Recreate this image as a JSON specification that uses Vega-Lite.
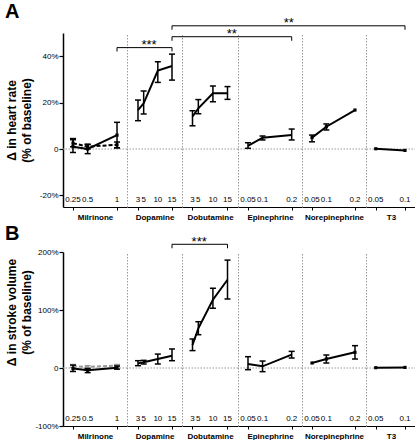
{
"$schema":"https://vega.github.io/schema/vega-lite/v6.json",
"padding":{"left":4,"top":2,"right":0,"bottom":0},
"spacing":2,
"config":{"view":{"stroke":null},"font":"Liberation Sans",
 "axisX":{"labels":false,"tickSize":3,"titleFontSize":8,"titleFontWeight":"bold","titlePadding":3,"domainColor":"black","domainWidth":1.2,"tickColor":"black","tickWidth":1,"titleColor":"black","grid":false},
 "axisY":{"grid":false,"labelColor":"black","titleColor":"black"},
 "text":{"font":"Liberation Sans"}},
"datasets":{
 "hr":[
  {"drug":"Milrinone","s":"solid","dose":0.25,"m":1,"lo":-1.5,"hi":4.5},
  {"drug":"Milrinone","s":"solid","dose":0.5,"m":0,"lo":-2,"hi":2},
  {"drug":"Milrinone","s":"solid","dose":1,"m":6,"lo":0.5,"hi":11.5},
  {"drug":"Milrinone","s":"dashed","dose":0.25,"m":2.5,"lo":1,"hi":4},
  {"drug":"Milrinone","s":"dashed","dose":0.5,"m":1,"lo":0,"hi":2},
  {"drug":"Milrinone","s":"dashed","dose":1,"m":1.8,"lo":0.5,"hi":3},
  {"drug":"Dopamine","s":"solid","dose":3,"m":16.8,"lo":12.2,"hi":21.1},
  {"drug":"Dopamine","s":"solid","dose":5,"m":19.7,"lo":15.1,"hi":25},
  {"drug":"Dopamine","s":"solid","dose":10,"m":33.8,"lo":28.7,"hi":37.6},
  {"drug":"Dopamine","s":"solid","dose":15,"m":35.8,"lo":29.7,"hi":40.9},
  {"drug":"Dobutamine","s":"solid","dose":3,"m":14,"lo":10,"hi":16.5},
  {"drug":"Dobutamine","s":"solid","dose":5,"m":17.5,"lo":15.2,"hi":21.3},
  {"drug":"Dobutamine","s":"solid","dose":10,"m":24,"lo":20.4,"hi":27.2},
  {"drug":"Dobutamine","s":"solid","dose":15,"m":24,"lo":21.4,"hi":26.9},
  {"drug":"Epinephrine","s":"solid","dose":0.05,"m":1.4,"lo":0.3,"hi":2.7},
  {"drug":"Epinephrine","s":"solid","dose":0.1,"m":4.9,"lo":3.9,"hi":5.6},
  {"drug":"Epinephrine","s":"solid","dose":0.2,"m":6,"lo":3.9,"hi":8.6},
  {"drug":"Norepinephrine","s":"solid","dose":0.05,"m":4.9,"lo":3.1,"hi":6},
  {"drug":"Norepinephrine","s":"solid","dose":0.1,"m":9.6,"lo":8.2,"hi":10.8},
  {"drug":"Norepinephrine","s":"solid","dose":0.2,"m":16.8,"lo":null,"hi":null},
  {"drug":"T3","s":"solid","dose":0.05,"m":0.1,"lo":null,"hi":null},
  {"drug":"T3","s":"solid","dose":0.1,"m":-0.6,"lo":null,"hi":null}
 ],
 "sv":[
  {"drug":"Milrinone","s":"solid","dose":0.25,"m":-1,"lo":-6,"hi":5},
  {"drug":"Milrinone","s":"solid","dose":0.5,"m":-4,"lo":-8,"hi":-1},
  {"drug":"Milrinone","s":"solid","dose":1,"m":0.5,"lo":-2,"hi":3.5},
  {"drug":"Milrinone","s":"dashed","dose":0.25,"m":3,"lo":1,"hi":6},
  {"drug":"Milrinone","s":"dashed","dose":0.5,"m":2,"lo":0,"hi":4},
  {"drug":"Milrinone","s":"dashed","dose":1,"m":4,"lo":2,"hi":6},
  {"drug":"Dopamine","s":"solid","dose":3,"m":8,"lo":4,"hi":12.6},
  {"drug":"Dopamine","s":"solid","dose":5,"m":9.8,"lo":6.9,"hi":13.2},
  {"drug":"Dopamine","s":"solid","dose":10,"m":15.5,"lo":6.9,"hi":24},
  {"drug":"Dopamine","s":"solid","dose":15,"m":21.2,"lo":12.6,"hi":32.8},
  {"drug":"Dobutamine","s":"solid","dose":3,"m":39.7,"lo":30,"hi":50},
  {"drug":"Dobutamine","s":"solid","dose":5,"m":68.4,"lo":57.4,"hi":79.8},
  {"drug":"Dobutamine","s":"solid","dose":10,"m":117.8,"lo":102.9,"hi":137.4},
  {"drug":"Dobutamine","s":"solid","dose":15,"m":152.2,"lo":119,"hi":186},
  {"drug":"Epinephrine","s":"solid","dose":0.05,"m":6.9,"lo":-2.9,"hi":19.5},
  {"drug":"Epinephrine","s":"solid","dose":0.1,"m":2.9,"lo":-6.3,"hi":12},
  {"drug":"Epinephrine","s":"solid","dose":0.2,"m":23,"lo":17.2,"hi":28.7},
  {"drug":"Norepinephrine","s":"solid","dose":0.05,"m":8.6,"lo":null,"hi":null},
  {"drug":"Norepinephrine","s":"solid","dose":0.1,"m":15.5,"lo":8.6,"hi":22.4},
  {"drug":"Norepinephrine","s":"solid","dose":0.2,"m":27,"lo":15.5,"hi":38.5},
  {"drug":"T3","s":"solid","dose":0.05,"m":0.5,"lo":null,"hi":null},
  {"drug":"T3","s":"solid","dose":0.1,"m":1,"lo":null,"hi":null}
 ]
},
"vconcat":[
 {"hconcat":[
  {"width":64,"height":174,"data":{"name":"hr"},
   "title":{"text":"A","anchor":"start","frame":"group","fontSize":20,"fontWeight":"bold","dx":-58,"offset":11,"color":"black"},
   "layer":[
    {"data":{"values":[{}]},"mark":{"type":"rule","color":"#999999","strokeDash":[1.5,1.5],"strokeWidth":1},"encoding":{"y":{"datum":0,"type":"quantitative"}}},
    {"transform":[{"filter":"datum.drug=='Milrinone'"}],"mark":{"type":"rule","color":"black","strokeWidth":1.5},"encoding":{"x":{"field":"dose","type":"quantitative"},"y":{"field":"lo","type":"quantitative"},"y2":{"field":"hi"}}},
    {"transform":[{"filter":"datum.drug=='Milrinone'"}],"mark":{"type":"tick","orient":"horizontal","size":6,"thickness":1.5,"color":"black","opacity":1},"encoding":{"x":{"field":"dose","type":"quantitative"},"y":{"field":"lo","type":"quantitative"}}},
    {"transform":[{"filter":"datum.drug=='Milrinone'"}],"mark":{"type":"tick","orient":"horizontal","size":6,"thickness":1.5,"color":"black","opacity":1},"encoding":{"x":{"field":"dose","type":"quantitative"},"y":{"field":"hi","type":"quantitative"}}},
    {"transform":[{"filter":"datum.drug=='Milrinone' && datum.s=='dashed'"}],"mark":{"type":"line","color":"black","strokeWidth":2,"strokeDash":[4,2]},"encoding":{"x":{"field":"dose","type":"quantitative"},"y":{"field":"m","type":"quantitative"}}},
    {"transform":[{"filter":"datum.drug=='Milrinone' && datum.s=='solid'"}],"mark":{"type":"line","color":"black","strokeWidth":2},"encoding":{
      "x":{"field":"dose","type":"quantitative","scale":{"domain":[0.08,1.17],"nice":false,"zero":false},"axis":{"values":[0.25,0.5,1],"title":"Milrinone","labels":false}},
      "y":{"field":"m","type":"quantitative","scale":{"domain":[-25,50],"nice":false,"zero":false},"axis":{"values":[-20,0,20,40],"labelExpr":"datum.value == 0 ? '0' : datum.value + '%'","title":["Δ in heart rate","(% of baseline)"],"titleX":-45,"titleY":87,"titleBaseline":"bottom","titleAngle":-90,"titleAlign":"center","titleFontSize":12,"titleFontWeight":"bold","titleLineHeight":15.5,"labelFontSize":8,"labelPadding":1,"labelOverlap":false,"tickSize":4,"tickWidth":1.2,"tickColor":"black","domainColor":"black","domainWidth":1.5}}}},
    {"transform":[{"filter":"datum.drug=='Milrinone'"}],"mark":{"type":"point","filled":true,"shape":"square","size":10,"color":"black","opacity":1},"encoding":{"x":{"field":"dose","type":"quantitative"},"y":{"field":"m","type":"quantitative"}}},
    {"transform":[{"filter":"datum.drug=='Milrinone' && datum.s=='solid'"}],"mark":{"type":"text","fontSize":8,"baseline":"alphabetic","dy":-5,"color":"black"},"encoding":{"x":{"field":"dose","type":"quantitative"},"y":{"datum":-25,"type":"quantitative"},"text":{"field":"dose","type":"quantitative","format":"~g"}}},
    {"data":{"values":[{"from":1,"level":43.7}]},"mark":{"type":"rule","color":"black","strokeWidth":1},"encoding":{"x":{"field":"from","type":"quantitative"},"x2":{"value":"width"},"y":{"field":"level","type":"quantitative"}}},
    {"data":{"values":[{"at":1,"level":43.7}]},"mark":{"type":"tick","orient":"vertical","size":4,"thickness":1,"color":"black","opacity":1,"yOffset":2},"encoding":{"x":{"field":"at","type":"quantitative"},"y":{"field":"level","type":"quantitative"}}}
   ]},
  {"width":55,"height":174,"data":{"name":"hr"},
   "layer":[
    {"data":{"values":[{}]},"mark":{"type":"rule","color":"#999999","strokeDash":[1.5,1.5],"strokeWidth":1},"encoding":{"y":{"datum":0,"type":"quantitative"}}},
    {"transform":[{"filter":"datum.drug=='Dopamine'"}],"mark":{"type":"rule","color":"black","strokeWidth":1.5},"encoding":{"x":{"field":"dose","type":"quantitative"},"y":{"field":"lo","type":"quantitative"},"y2":{"field":"hi"}}},
    {"transform":[{"filter":"datum.drug=='Dopamine'"}],"mark":{"type":"tick","orient":"horizontal","size":6,"thickness":1.5,"color":"black","opacity":1},"encoding":{"x":{"field":"dose","type":"quantitative"},"y":{"field":"lo","type":"quantitative"}}},
    {"transform":[{"filter":"datum.drug=='Dopamine'"}],"mark":{"type":"tick","orient":"horizontal","size":6,"thickness":1.5,"color":"black","opacity":1},"encoding":{"x":{"field":"dose","type":"quantitative"},"y":{"field":"hi","type":"quantitative"}}},
    {"transform":[{"filter":"datum.drug=='Dopamine'"}],"mark":{"type":"line","color":"black","strokeWidth":2},"encoding":{
      "x":{"field":"dose","type":"quantitative","scale":{"domain":[-0.88,18.53],"nice":false,"zero":false},"axis":{"values":[3,5,10,15],"title":"Dopamine","labels":false}},
      "y":{"field":"m","type":"quantitative","scale":{"domain":[-25,50],"nice":false,"zero":false},"axis":{"labels":false,"ticks":false,"title":null,"domainColor":"#999999","domainDash":[1.5,1.5],"domainWidth":1}}}},
    {"transform":[{"filter":"datum.drug=='Dopamine'"}],"mark":{"type":"text","fontSize":8,"baseline":"alphabetic","dy":-5,"color":"black"},"encoding":{"x":{"field":"dose","type":"quantitative"},"y":{"datum":-25,"type":"quantitative"},"text":{"field":"dose","type":"quantitative","format":"~g"}}},
    {"data":{"values":[{"from":15,"level":48.4},{"from":15,"level":53.1}]},"mark":{"type":"rule","color":"black","strokeWidth":1},"encoding":{"x":{"field":"from","type":"quantitative"},"x2":{"value":"width"},"y":{"field":"level","type":"quantitative"}}},
    {"data":{"values":[{"to":15,"level":43.7}]},"mark":{"type":"rule","color":"black","strokeWidth":1},"encoding":{"x":{"field":"to","type":"quantitative"},"x2":{"value":0},"y":{"field":"level","type":"quantitative"}}},
    {"data":{"values":[{"at":15,"level":43.7},{"at":15,"level":48.4},{"at":15,"level":53.1}]},"mark":{"type":"tick","orient":"vertical","size":4,"thickness":1,"color":"black","opacity":1,"yOffset":2},"encoding":{"x":{"field":"at","type":"quantitative"},"y":{"field":"level","type":"quantitative"}}},
    {"data":{"values":[{"x":6.9,"level":43.7,"t":"***"}]},"mark":{"type":"text","fontSize":13,"dy":1.5,"baseline":"alphabetic","align":"center","color":"black"},"encoding":{"x":{"field":"x","type":"quantitative"},"y":{"field":"level","type":"quantitative"},"text":{"field":"t"}}}
   ]},
  {"width":56,"height":174,"data":{"name":"hr"},
   "layer":[
    {"data":{"values":[{}]},"mark":{"type":"rule","color":"#999999","strokeDash":[1.5,1.5],"strokeWidth":1},"encoding":{"y":{"datum":0,"type":"quantitative"}}},
    {"transform":[{"filter":"datum.drug=='Dobutamine'"}],"mark":{"type":"rule","color":"black","strokeWidth":1.5},"encoding":{"x":{"field":"dose","type":"quantitative"},"y":{"field":"lo","type":"quantitative"},"y2":{"field":"hi"}}},
    {"transform":[{"filter":"datum.drug=='Dobutamine'"}],"mark":{"type":"tick","orient":"horizontal","size":6,"thickness":1.5,"color":"black","opacity":1},"encoding":{"x":{"field":"dose","type":"quantitative"},"y":{"field":"lo","type":"quantitative"}}},
    {"transform":[{"filter":"datum.drug=='Dobutamine'"}],"mark":{"type":"tick","orient":"horizontal","size":6,"thickness":1.5,"color":"black","opacity":1},"encoding":{"x":{"field":"dose","type":"quantitative"},"y":{"field":"hi","type":"quantitative"}}},
    {"transform":[{"filter":"datum.drug=='Dobutamine'"}],"mark":{"type":"line","color":"black","strokeWidth":2},"encoding":{
      "x":{"field":"dose","type":"quantitative","scale":{"domain":[-0.6,18.6],"nice":false,"zero":false},"axis":{"values":[3,5,10,15],"title":"Dobutamine","labels":false}},
      "y":{"field":"m","type":"quantitative","scale":{"domain":[-25,50],"nice":false,"zero":false},"axis":{"labels":false,"ticks":false,"title":null,"domainColor":"#999999","domainDash":[1.5,1.5],"domainWidth":1}}}},
    {"transform":[{"filter":"datum.drug=='Dobutamine'"}],"mark":{"type":"text","fontSize":8,"baseline":"alphabetic","dy":-5,"color":"black"},"encoding":{"x":{"field":"dose","type":"quantitative"},"y":{"datum":-25,"type":"quantitative"},"text":{"field":"dose","type":"quantitative","format":"~g"}}},
    {"data":{"values":[{"level":48.4},{"level":53.1}]},"mark":{"type":"rule","color":"black","strokeWidth":1},"encoding":{"x":{"value":0},"x2":{"value":"width"},"y":{"field":"level","type":"quantitative"}}},
    {"data":{"values":[{"x":16.5,"level":48.4,"t":"**"}]},"mark":{"type":"text","fontSize":13,"dy":1.5,"baseline":"alphabetic","align":"center","color":"black"},"encoding":{"x":{"field":"x","type":"quantitative"},"y":{"field":"level","type":"quantitative"},"text":{"field":"t"}}}
   ]},
  {"width":64,"height":174,"data":{"name":"hr"},
   "layer":[
    {"data":{"values":[{}]},"mark":{"type":"rule","color":"#999999","strokeDash":[1.5,1.5],"strokeWidth":1},"encoding":{"y":{"datum":0,"type":"quantitative"}}},
    {"transform":[{"filter":"datum.drug=='Epinephrine'"}],"mark":{"type":"rule","color":"black","strokeWidth":1.5},"encoding":{"x":{"field":"dose","type":"quantitative"},"y":{"field":"lo","type":"quantitative"},"y2":{"field":"hi"}}},
    {"transform":[{"filter":"datum.drug=='Epinephrine'"}],"mark":{"type":"tick","orient":"horizontal","size":6,"thickness":1.5,"color":"black","opacity":1},"encoding":{"x":{"field":"dose","type":"quantitative"},"y":{"field":"lo","type":"quantitative"}}},
    {"transform":[{"filter":"datum.drug=='Epinephrine'"}],"mark":{"type":"tick","orient":"horizontal","size":6,"thickness":1.5,"color":"black","opacity":1},"encoding":{"x":{"field":"dose","type":"quantitative"},"y":{"field":"hi","type":"quantitative"}}},
    {"transform":[{"filter":"datum.drug=='Epinephrine'"}],"mark":{"type":"line","color":"black","strokeWidth":2},"encoding":{
      "x":{"field":"dose","type":"quantitative","scale":{"domain":[0.0157,0.2354],"nice":false,"zero":false},"axis":{"values":[0.05,0.1,0.2],"title":"Epinephrine","labels":false}},
      "y":{"field":"m","type":"quantitative","scale":{"domain":[-25,50],"nice":false,"zero":false},"axis":{"labels":false,"ticks":false,"title":null,"domainColor":"#999999","domainDash":[1.5,1.5],"domainWidth":1}}}},
    {"transform":[{"filter":"datum.drug=='Epinephrine'"}],"mark":{"type":"text","fontSize":8,"baseline":"alphabetic","dy":-5,"color":"black"},"encoding":{"x":{"field":"dose","type":"quantitative"},"y":{"datum":-25,"type":"quantitative"},"text":{"field":"dose","type":"quantitative","format":"~g"}}},
    {"data":{"values":[{"level":53.1}]},"mark":{"type":"rule","color":"black","strokeWidth":1},"encoding":{"x":{"value":0},"x2":{"value":"width"},"y":{"field":"level","type":"quantitative"}}},
    {"data":{"values":[{"to":0.2,"level":48.4}]},"mark":{"type":"rule","color":"black","strokeWidth":1},"encoding":{"x":{"field":"to","type":"quantitative"},"x2":{"value":0},"y":{"field":"level","type":"quantitative"}}},
    {"data":{"values":[{"at":0.2,"level":48.4}]},"mark":{"type":"tick","orient":"vertical","size":4,"thickness":1,"color":"black","opacity":1,"yOffset":2},"encoding":{"x":{"field":"at","type":"quantitative"},"y":{"field":"level","type":"quantitative"}}},
    {"data":{"values":[{"x":0.19,"level":53.1,"t":"**"}]},"mark":{"type":"text","fontSize":13,"dy":1.5,"baseline":"alphabetic","align":"center","color":"black"},"encoding":{"x":{"field":"x","type":"quantitative"},"y":{"field":"level","type":"quantitative"},"text":{"field":"t"}}}
   ]},
  {"width":64,"height":174,"data":{"name":"hr"},
   "layer":[
    {"data":{"values":[{}]},"mark":{"type":"rule","color":"#999999","strokeDash":[1.5,1.5],"strokeWidth":1},"encoding":{"y":{"datum":0,"type":"quantitative"}}},
    {"transform":[{"filter":"datum.drug=='Norepinephrine' && datum.lo != null"}],"mark":{"type":"rule","color":"black","strokeWidth":1.5},"encoding":{"x":{"field":"dose","type":"quantitative"},"y":{"field":"lo","type":"quantitative"},"y2":{"field":"hi"}}},
    {"transform":[{"filter":"datum.drug=='Norepinephrine' && datum.lo != null"}],"mark":{"type":"tick","orient":"horizontal","size":6,"thickness":1.5,"color":"black","opacity":1},"encoding":{"x":{"field":"dose","type":"quantitative"},"y":{"field":"lo","type":"quantitative"}}},
    {"transform":[{"filter":"datum.drug=='Norepinephrine' && datum.lo != null"}],"mark":{"type":"tick","orient":"horizontal","size":6,"thickness":1.5,"color":"black","opacity":1},"encoding":{"x":{"field":"dose","type":"quantitative"},"y":{"field":"hi","type":"quantitative"}}},
    {"transform":[{"filter":"datum.drug=='Norepinephrine'"}],"mark":{"type":"line","color":"black","strokeWidth":2},"encoding":{
      "x":{"field":"dose","type":"quantitative","scale":{"domain":[0.0151,0.2384],"nice":false,"zero":false},"axis":{"values":[0.05,0.1,0.2],"title":"Norepinephrine","labels":false}},
      "y":{"field":"m","type":"quantitative","scale":{"domain":[-25,50],"nice":false,"zero":false},"axis":{"labels":false,"ticks":false,"title":null,"domainColor":"#999999","domainDash":[1.5,1.5],"domainWidth":1}}}},
    {"transform":[{"filter":"datum.drug=='Norepinephrine'"}],"mark":{"type":"point","filled":true,"shape":"square","size":10,"color":"black","opacity":1},"encoding":{"x":{"field":"dose","type":"quantitative"},"y":{"field":"m","type":"quantitative"}}},
    {"transform":[{"filter":"datum.drug=='Norepinephrine'"}],"mark":{"type":"text","fontSize":8,"baseline":"alphabetic","dy":-5,"color":"black"},"encoding":{"x":{"field":"dose","type":"quantitative"},"y":{"datum":-25,"type":"quantitative"},"text":{"field":"dose","type":"quantitative","format":"~g"}}},
    {"data":{"values":[{"level":53.1}]},"mark":{"type":"rule","color":"black","strokeWidth":1},"encoding":{"x":{"value":0},"x2":{"value":"width"},"y":{"field":"level","type":"quantitative"}}}
   ]},
  {"width":50,"height":174,"data":{"name":"hr"},
   "layer":[
    {"data":{"values":[{}]},"mark":{"type":"rule","color":"#999999","strokeDash":[1.5,1.5],"strokeWidth":1},"encoding":{"y":{"datum":0,"type":"quantitative"}}},
    {"transform":[{"filter":"datum.drug=='T3'"}],"mark":{"type":"line","color":"black","strokeWidth":2},"encoding":{
      "x":{"field":"dose","type":"quantitative","scale":{"domain":[0.0334,0.1188],"nice":false,"zero":false},"axis":{"values":[0.05,0.1],"title":"T3","labels":false}},
      "y":{"field":"m","type":"quantitative","scale":{"domain":[-25,50],"nice":false,"zero":false},"axis":{"labels":false,"ticks":false,"title":null,"domainColor":"#999999","domainDash":[1.5,1.5],"domainWidth":1}}}},
    {"transform":[{"filter":"datum.drug=='T3'"}],"mark":{"type":"point","filled":true,"shape":"square","size":10,"color":"black","opacity":1},"encoding":{"x":{"field":"dose","type":"quantitative"},"y":{"field":"m","type":"quantitative"}}},
    {"transform":[{"filter":"datum.drug=='T3'"}],"mark":{"type":"text","fontSize":8,"baseline":"alphabetic","dy":-5,"color":"black"},"encoding":{"x":{"field":"dose","type":"quantitative"},"y":{"datum":-25,"type":"quantitative"},"text":{"field":"dose","type":"quantitative","format":"~g"}}},
    {"data":{"values":[{"to":0.1,"level":53.1}]},"mark":{"type":"rule","color":"black","strokeWidth":1},"encoding":{"x":{"field":"to","type":"quantitative"},"x2":{"value":0},"y":{"field":"level","type":"quantitative"}}},
    {"data":{"values":[{"at":0.1,"level":53.1}]},"mark":{"type":"tick","orient":"vertical","size":4,"thickness":1,"color":"black","opacity":1,"yOffset":2},"encoding":{"x":{"field":"at","type":"quantitative"},"y":{"field":"level","type":"quantitative"}}}
   ]}
 ],"spacing":0,"bounds":"flush","resolve":{"scale":{"x":"independent","y":"independent"},"axis":{"x":"independent","y":"independent"}}},
 {"hconcat":[
  {"width":64,"height":174,"data":{"name":"sv"},
   "title":{"text":"B","anchor":"start","frame":"group","fontSize":20,"fontWeight":"bold","dx":-58,"offset":3.7,"color":"black"},
   "layer":[
    {"data":{"values":[{}]},"mark":{"type":"rule","color":"#999999","strokeDash":[1.5,1.5],"strokeWidth":1},"encoding":{"y":{"datum":0,"type":"quantitative"}}},
    {"transform":[{"filter":"datum.drug=='Milrinone' && datum.s=='dashed'"}],"mark":{"type":"rule","color":"#999999","strokeWidth":1.5},"encoding":{"x":{"field":"dose","type":"quantitative"},"y":{"field":"lo","type":"quantitative"},"y2":{"field":"hi"}}},
    {"transform":[{"filter":"datum.drug=='Milrinone' && datum.s=='dashed'"}],"mark":{"type":"tick","orient":"horizontal","size":6,"thickness":1.5,"color":"#999999","opacity":1},"encoding":{"x":{"field":"dose","type":"quantitative"},"y":{"field":"lo","type":"quantitative"}}},
    {"transform":[{"filter":"datum.drug=='Milrinone' && datum.s=='dashed'"}],"mark":{"type":"tick","orient":"horizontal","size":6,"thickness":1.5,"color":"#999999","opacity":1},"encoding":{"x":{"field":"dose","type":"quantitative"},"y":{"field":"hi","type":"quantitative"}}},
    {"transform":[{"filter":"datum.drug=='Milrinone' && datum.s=='dashed'"}],"mark":{"type":"line","color":"#999999","strokeWidth":2,"strokeDash":[4,2]},"encoding":{"x":{"field":"dose","type":"quantitative"},"y":{"field":"m","type":"quantitative"}}},
    {"transform":[{"filter":"datum.drug=='Milrinone' && datum.s=='solid'"}],"mark":{"type":"rule","color":"black","strokeWidth":1.5},"encoding":{"x":{"field":"dose","type":"quantitative"},"y":{"field":"lo","type":"quantitative"},"y2":{"field":"hi"}}},
    {"transform":[{"filter":"datum.drug=='Milrinone' && datum.s=='solid'"}],"mark":{"type":"tick","orient":"horizontal","size":6,"thickness":1.5,"color":"black","opacity":1},"encoding":{"x":{"field":"dose","type":"quantitative"},"y":{"field":"lo","type":"quantitative"}}},
    {"transform":[{"filter":"datum.drug=='Milrinone' && datum.s=='solid'"}],"mark":{"type":"tick","orient":"horizontal","size":6,"thickness":1.5,"color":"black","opacity":1},"encoding":{"x":{"field":"dose","type":"quantitative"},"y":{"field":"hi","type":"quantitative"}}},
    {"transform":[{"filter":"datum.drug=='Milrinone' && datum.s=='solid'"}],"mark":{"type":"line","color":"black","strokeWidth":2},"encoding":{
      "x":{"field":"dose","type":"quantitative","scale":{"domain":[0.08,1.17],"nice":false,"zero":false},"axis":{"values":[0.25,0.5,1],"title":"Milrinone","labels":false}},
      "y":{"field":"m","type":"quantitative","scale":{"domain":[-100,200],"nice":false,"zero":false},"axis":{"values":[-100,0,100,200],"labelExpr":"datum.value == 0 ? '0' : datum.value + '%'","title":["Δ in stroke volume","(% of baseline)"],"titleX":-45,"titleY":60,"titleBaseline":"bottom","titleAngle":-90,"titleAlign":"center","titleFontSize":12,"titleFontWeight":"bold","titleLineHeight":15.5,"labelFontSize":8,"labelPadding":1,"labelOverlap":false,"tickSize":4,"tickWidth":1.2,"tickColor":"black","domainColor":"black","domainWidth":1.5}}}},
    {"transform":[{"filter":"datum.drug=='Milrinone' && datum.s=='solid'"}],"mark":{"type":"point","filled":true,"shape":"square","size":10,"color":"black","opacity":1},"encoding":{"x":{"field":"dose","type":"quantitative"},"y":{"field":"m","type":"quantitative"}}},
    {"transform":[{"filter":"datum.drug=='Milrinone' && datum.s=='solid'"}],"mark":{"type":"text","fontSize":8,"baseline":"alphabetic","dy":-5,"color":"black"},"encoding":{"x":{"field":"dose","type":"quantitative"},"y":{"datum":-100,"type":"quantitative"},"text":{"field":"dose","type":"quantitative","format":"~g"}}}
   ]},
  {"width":55,"height":174,"data":{"name":"sv"},
   "layer":[
    {"data":{"values":[{}]},"mark":{"type":"rule","color":"#999999","strokeDash":[1.5,1.5],"strokeWidth":1},"encoding":{"y":{"datum":0,"type":"quantitative"}}},
    {"transform":[{"filter":"datum.drug=='Dopamine'"}],"mark":{"type":"rule","color":"black","strokeWidth":1.5},"encoding":{"x":{"field":"dose","type":"quantitative"},"y":{"field":"lo","type":"quantitative"},"y2":{"field":"hi"}}},
    {"transform":[{"filter":"datum.drug=='Dopamine'"}],"mark":{"type":"tick","orient":"horizontal","size":6,"thickness":1.5,"color":"black","opacity":1},"encoding":{"x":{"field":"dose","type":"quantitative"},"y":{"field":"lo","type":"quantitative"}}},
    {"transform":[{"filter":"datum.drug=='Dopamine'"}],"mark":{"type":"tick","orient":"horizontal","size":6,"thickness":1.5,"color":"black","opacity":1},"encoding":{"x":{"field":"dose","type":"quantitative"},"y":{"field":"hi","type":"quantitative"}}},
    {"transform":[{"filter":"datum.drug=='Dopamine'"}],"mark":{"type":"line","color":"black","strokeWidth":2},"encoding":{
      "x":{"field":"dose","type":"quantitative","scale":{"domain":[-0.88,18.53],"nice":false,"zero":false},"axis":{"values":[3,5,10,15],"title":"Dopamine","labels":false}},
      "y":{"field":"m","type":"quantitative","scale":{"domain":[-100,200],"nice":false,"zero":false},"axis":{"labels":false,"ticks":false,"title":null,"domainColor":"#999999","domainDash":[1.5,1.5],"domainWidth":1}}}},
    {"transform":[{"filter":"datum.drug=='Dopamine'"}],"mark":{"type":"text","fontSize":8,"baseline":"alphabetic","dy":-5,"color":"black"},"encoding":{"x":{"field":"dose","type":"quantitative"},"y":{"datum":-100,"type":"quantitative"},"text":{"field":"dose","type":"quantitative","format":"~g"}}},
    {"data":{"values":[{"from":15,"level":213.3}]},"mark":{"type":"rule","color":"black","strokeWidth":1},"encoding":{"x":{"field":"from","type":"quantitative"},"x2":{"value":"width"},"y":{"field":"level","type":"quantitative"}}},
    {"data":{"values":[{"at":15,"level":213.3}]},"mark":{"type":"tick","orient":"vertical","size":4,"thickness":1,"color":"black","opacity":1,"yOffset":2},"encoding":{"x":{"field":"at","type":"quantitative"},"y":{"field":"level","type":"quantitative"}}}
   ]},
  {"width":56,"height":174,"data":{"name":"sv"},
   "layer":[
    {"data":{"values":[{}]},"mark":{"type":"rule","color":"#999999","strokeDash":[1.5,1.5],"strokeWidth":1},"encoding":{"y":{"datum":0,"type":"quantitative"}}},
    {"transform":[{"filter":"datum.drug=='Dobutamine'"}],"mark":{"type":"rule","color":"black","strokeWidth":1.5},"encoding":{"x":{"field":"dose","type":"quantitative"},"y":{"field":"lo","type":"quantitative"},"y2":{"field":"hi"}}},
    {"transform":[{"filter":"datum.drug=='Dobutamine'"}],"mark":{"type":"tick","orient":"horizontal","size":6,"thickness":1.5,"color":"black","opacity":1},"encoding":{"x":{"field":"dose","type":"quantitative"},"y":{"field":"lo","type":"quantitative"}}},
    {"transform":[{"filter":"datum.drug=='Dobutamine'"}],"mark":{"type":"tick","orient":"horizontal","size":6,"thickness":1.5,"color":"black","opacity":1},"encoding":{"x":{"field":"dose","type":"quantitative"},"y":{"field":"hi","type":"quantitative"}}},
    {"transform":[{"filter":"datum.drug=='Dobutamine'"}],"mark":{"type":"line","color":"black","strokeWidth":2},"encoding":{
      "x":{"field":"dose","type":"quantitative","scale":{"domain":[-0.6,18.6],"nice":false,"zero":false},"axis":{"values":[3,5,10,15],"title":"Dobutamine","labels":false}},
      "y":{"field":"m","type":"quantitative","scale":{"domain":[-100,200],"nice":false,"zero":false},"axis":{"labels":false,"ticks":false,"title":null,"domainColor":"#999999","domainDash":[1.5,1.5],"domainWidth":1}}}},
    {"transform":[{"filter":"datum.drug=='Dobutamine'"}],"mark":{"type":"text","fontSize":8,"baseline":"alphabetic","dy":-5,"color":"black"},"encoding":{"x":{"field":"dose","type":"quantitative"},"y":{"datum":-100,"type":"quantitative"},"text":{"field":"dose","type":"quantitative","format":"~g"}}},
    {"data":{"values":[{"to":15,"level":213.3}]},"mark":{"type":"rule","color":"black","strokeWidth":1},"encoding":{"x":{"field":"to","type":"quantitative"},"x2":{"value":0},"y":{"field":"level","type":"quantitative"}}},
    {"data":{"values":[{"at":15,"level":213.3}]},"mark":{"type":"tick","orient":"vertical","size":4,"thickness":1,"color":"black","opacity":1,"yOffset":2},"encoding":{"x":{"field":"at","type":"quantitative"},"y":{"field":"level","type":"quantitative"}}},
    {"data":{"values":[{"x":5.3,"level":213.3,"t":"***"}]},"mark":{"type":"text","fontSize":13,"dy":1.5,"baseline":"alphabetic","align":"center","color":"black"},"encoding":{"x":{"field":"x","type":"quantitative"},"y":{"field":"level","type":"quantitative"},"text":{"field":"t"}}}
   ]},
  {"width":64,"height":174,"data":{"name":"sv"},
   "layer":[
    {"data":{"values":[{}]},"mark":{"type":"rule","color":"#999999","strokeDash":[1.5,1.5],"strokeWidth":1},"encoding":{"y":{"datum":0,"type":"quantitative"}}},
    {"transform":[{"filter":"datum.drug=='Epinephrine'"}],"mark":{"type":"rule","color":"black","strokeWidth":1.5},"encoding":{"x":{"field":"dose","type":"quantitative"},"y":{"field":"lo","type":"quantitative"},"y2":{"field":"hi"}}},
    {"transform":[{"filter":"datum.drug=='Epinephrine'"}],"mark":{"type":"tick","orient":"horizontal","size":6,"thickness":1.5,"color":"black","opacity":1},"encoding":{"x":{"field":"dose","type":"quantitative"},"y":{"field":"lo","type":"quantitative"}}},
    {"transform":[{"filter":"datum.drug=='Epinephrine'"}],"mark":{"type":"tick","orient":"horizontal","size":6,"thickness":1.5,"color":"black","opacity":1},"encoding":{"x":{"field":"dose","type":"quantitative"},"y":{"field":"hi","type":"quantitative"}}},
    {"transform":[{"filter":"datum.drug=='Epinephrine'"}],"mark":{"type":"line","color":"black","strokeWidth":2},"encoding":{
      "x":{"field":"dose","type":"quantitative","scale":{"domain":[0.0157,0.2354],"nice":false,"zero":false},"axis":{"values":[0.05,0.1,0.2],"title":"Epinephrine","labels":false}},
      "y":{"field":"m","type":"quantitative","scale":{"domain":[-100,200],"nice":false,"zero":false},"axis":{"labels":false,"ticks":false,"title":null,"domainColor":"#999999","domainDash":[1.5,1.5],"domainWidth":1}}}},
    {"transform":[{"filter":"datum.drug=='Epinephrine'"}],"mark":{"type":"text","fontSize":8,"baseline":"alphabetic","dy":-5,"color":"black"},"encoding":{"x":{"field":"dose","type":"quantitative"},"y":{"datum":-100,"type":"quantitative"},"text":{"field":"dose","type":"quantitative","format":"~g"}}}
   ]},
  {"width":64,"height":174,"data":{"name":"sv"},
   "layer":[
    {"data":{"values":[{}]},"mark":{"type":"rule","color":"#999999","strokeDash":[1.5,1.5],"strokeWidth":1},"encoding":{"y":{"datum":0,"type":"quantitative"}}},
    {"transform":[{"filter":"datum.drug=='Norepinephrine' && datum.lo != null"}],"mark":{"type":"rule","color":"black","strokeWidth":1.5},"encoding":{"x":{"field":"dose","type":"quantitative"},"y":{"field":"lo","type":"quantitative"},"y2":{"field":"hi"}}},
    {"transform":[{"filter":"datum.drug=='Norepinephrine' && datum.lo != null"}],"mark":{"type":"tick","orient":"horizontal","size":6,"thickness":1.5,"color":"black","opacity":1},"encoding":{"x":{"field":"dose","type":"quantitative"},"y":{"field":"lo","type":"quantitative"}}},
    {"transform":[{"filter":"datum.drug=='Norepinephrine' && datum.lo != null"}],"mark":{"type":"tick","orient":"horizontal","size":6,"thickness":1.5,"color":"black","opacity":1},"encoding":{"x":{"field":"dose","type":"quantitative"},"y":{"field":"hi","type":"quantitative"}}},
    {"transform":[{"filter":"datum.drug=='Norepinephrine'"}],"mark":{"type":"line","color":"black","strokeWidth":2},"encoding":{
      "x":{"field":"dose","type":"quantitative","scale":{"domain":[0.0151,0.2384],"nice":false,"zero":false},"axis":{"values":[0.05,0.1,0.2],"title":"Norepinephrine","labels":false}},
      "y":{"field":"m","type":"quantitative","scale":{"domain":[-100,200],"nice":false,"zero":false},"axis":{"labels":false,"ticks":false,"title":null,"domainColor":"#999999","domainDash":[1.5,1.5],"domainWidth":1}}}},
    {"transform":[{"filter":"datum.drug=='Norepinephrine'"}],"mark":{"type":"point","filled":true,"shape":"square","size":10,"color":"black","opacity":1},"encoding":{"x":{"field":"dose","type":"quantitative"},"y":{"field":"m","type":"quantitative"}}},
    {"transform":[{"filter":"datum.drug=='Norepinephrine'"}],"mark":{"type":"text","fontSize":8,"baseline":"alphabetic","dy":-5,"color":"black"},"encoding":{"x":{"field":"dose","type":"quantitative"},"y":{"datum":-100,"type":"quantitative"},"text":{"field":"dose","type":"quantitative","format":"~g"}}}
   ]},
  {"width":50,"height":174,"data":{"name":"sv"},
   "layer":[
    {"data":{"values":[{}]},"mark":{"type":"rule","color":"#999999","strokeDash":[1.5,1.5],"strokeWidth":1},"encoding":{"y":{"datum":0,"type":"quantitative"}}},
    {"transform":[{"filter":"datum.drug=='T3'"}],"mark":{"type":"line","color":"black","strokeWidth":2},"encoding":{
      "x":{"field":"dose","type":"quantitative","scale":{"domain":[0.0334,0.1188],"nice":false,"zero":false},"axis":{"values":[0.05,0.1],"title":"T3","labels":false}},
      "y":{"field":"m","type":"quantitative","scale":{"domain":[-100,200],"nice":false,"zero":false},"axis":{"labels":false,"ticks":false,"title":null,"domainColor":"#999999","domainDash":[1.5,1.5],"domainWidth":1}}}},
    {"transform":[{"filter":"datum.drug=='T3'"}],"mark":{"type":"point","filled":true,"shape":"square","size":10,"color":"black","opacity":1},"encoding":{"x":{"field":"dose","type":"quantitative"},"y":{"field":"m","type":"quantitative"}}},
    {"transform":[{"filter":"datum.drug=='T3'"}],"mark":{"type":"text","fontSize":8,"baseline":"alphabetic","dy":-5,"color":"black"},"encoding":{"x":{"field":"dose","type":"quantitative"},"y":{"datum":-100,"type":"quantitative"},"text":{"field":"dose","type":"quantitative","format":"~g"}}}
   ]}
 ],"spacing":0,"bounds":"flush","resolve":{"scale":{"x":"independent","y":"independent"},"axis":{"x":"independent","y":"independent"}}}
]
}
